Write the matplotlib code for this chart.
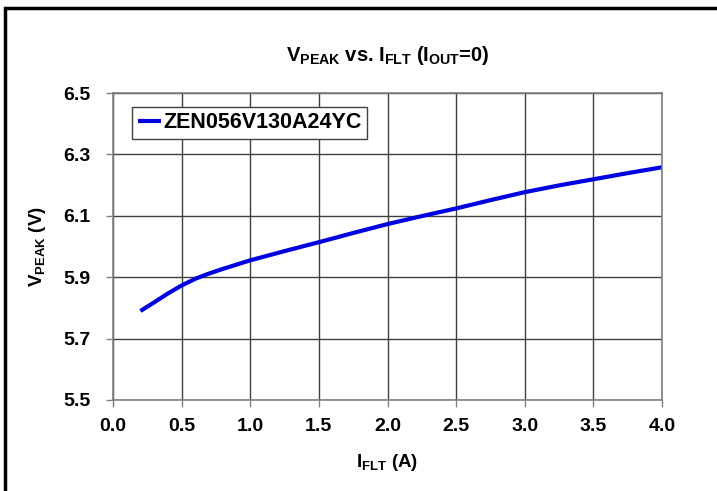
import matplotlib.pyplot as plt
from matplotlib.patches import Rectangle

# data
i_flt = [0.2, 0.3, 0.4, 0.5, 0.6, 0.7, 0.8, 1.0, 1.25, 1.5, 1.75, 2.0,
         2.25, 2.5, 2.75, 3.0, 3.25, 3.5, 3.75, 4.0]
v_peak = [5.790, 5.818, 5.847, 5.873, 5.895, 5.912, 5.927, 5.955, 5.985, 6.014,
          6.044, 6.073, 6.099, 6.124, 6.151, 6.177, 6.199, 6.219, 6.239, 6.258]
series_name = "ZEN056V130A24YC"
x_ticks = [0.0, 0.5, 1.0, 1.5, 2.0, 2.5, 3.0, 3.5, 4.0]
y_ticks = [5.5, 5.7, 5.9, 6.1, 6.3, 6.5]

plt.rcParams['font.family'] = ['Liberation Sans', 'DejaVu Sans']
plt.rcParams['font.weight'] = 'bold'
plt.rcParams['mathtext.fontset'] = 'custom'
plt.rcParams['mathtext.rm'] = 'Liberation Sans:bold'
plt.rcParams['mathtext.bf'] = 'Liberation Sans:bold'
plt.rcParams['mathtext.it'] = 'Liberation Sans:bold'

fig = plt.figure(figsize=(7.17, 4.91), dpi=100)
ax = fig.add_axes([113 / 717, 1 - 400 / 491, 549 / 717, 307 / 491])

ax.plot(i_flt, v_peak, color='#0000e0', lw=3, label=series_name,
        solid_capstyle='butt')

ax.set_xlim(0, 4)
ax.set_ylim(5.5, 6.5)
ax.set_xticks(x_ticks)
ax.set_yticks(y_ticks)
ax.set_xticklabels(['%.1f' % t for t in x_ticks])
ax.set_yticklabels(['%.1f' % t for t in y_ticks])
ax.tick_params(axis='both', direction='out', length=5, width=1, color='#808080',
               labelsize=14)
ax.tick_params(axis='x', pad=8)
ax.tick_params(axis='y', pad=11)
ax.grid(True, color='#404040', lw=1)
for s in ax.spines.values():
    s.set_color('#808080')
    s.set_linewidth(1.2)

ax.set_title(r'$\mathrm{V_{PEAK}}$ vs. $\mathrm{I_{FLT}}$ ($\mathrm{I_{OUT}}$=0)',
             fontsize=14.5, fontweight='bold', pad=23)
ax.set_xlabel(r'$\mathrm{I_{FLT}}$ (A)', fontsize=13.5, fontweight='bold', labelpad=12)
ax.set_ylabel(r'$\mathrm{V_{PEAK}}$ (V)', fontsize=13.5, fontweight='bold', labelpad=11)

leg = ax.legend(loc='upper left', bbox_to_anchor=(0.035, 0.955), fontsize=15.5,
                frameon=True, fancybox=False, edgecolor='#404040', framealpha=1,
                handlelength=1.1, handletextpad=0.1, borderpad=0.25,
                borderaxespad=0)
leg.get_frame().set_linewidth(1)
for t in leg.get_texts():
    t.set_fontweight('bold')

# outer frame (cropped on right/bottom in the reference)
fig.patches.append(Rectangle((5 / 717, -0.1), 1.2, 1 - 8 / 491 + 0.1,
                             transform=fig.transFigure, fill=False,
                             edgecolor='black', lw=2.5, clip_on=False))

fig.savefig('out.png', dpi=100)
